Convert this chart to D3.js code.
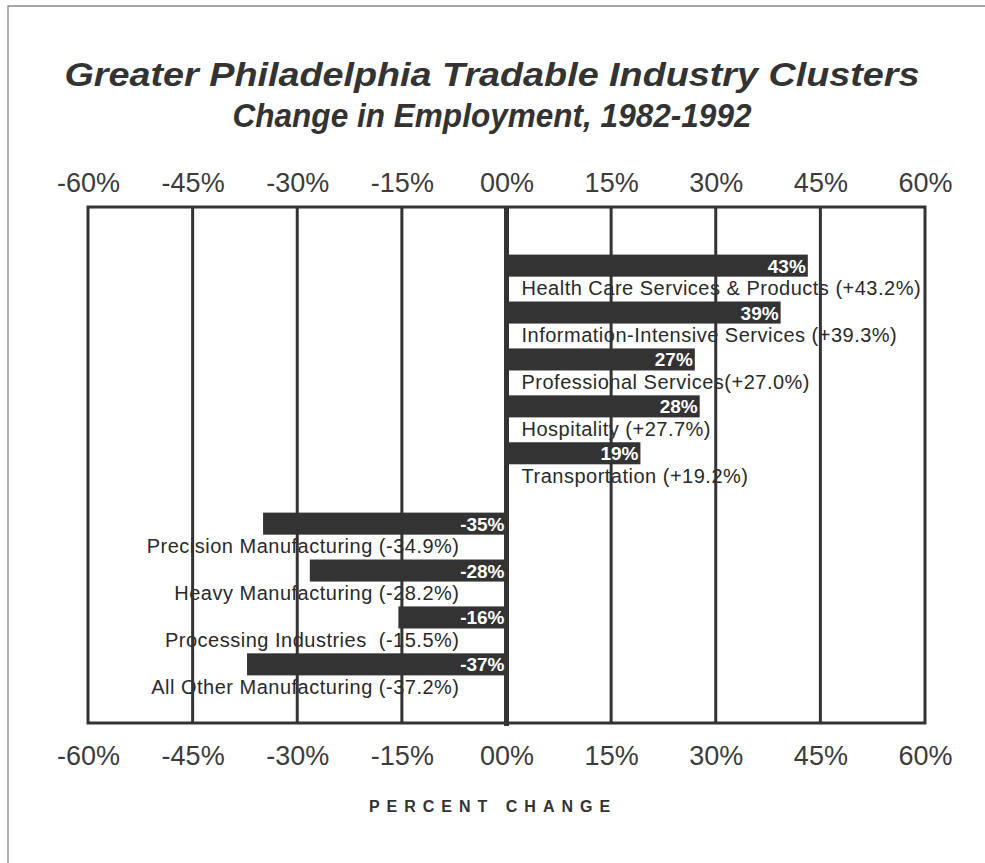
<!DOCTYPE html>
<html>
<head>
<meta charset="utf-8">
<script src="https://cdn.jsdelivr.net/npm/d3@7"></script>
<style>
  html, body { margin: 0; padding: 0; background: #fff; }
  svg { display: block; font-family: "Liberation Sans", Arial, sans-serif; }
</style>
</head>
<body>
<svg id="chart" width="985" height="863"></svg>
<script>
// ---- data ----
const categories = [
  "Health Care Services & Products",
  "Information-Intensive Services",
  "Professional Services",
  "Hospitality",
  "Transportation",
  "Precision Manufacturing",
  "Heavy Manufacturing",
  "Processing Industries",
  "All Other Manufacturing"
];
const values = [43.2, 39.3, 27.0, 27.7, 19.2, -34.9, -28.2, -15.5, -37.2];
const categoryLabels = [
  "Health Care Services & Products (+43.2%)",
  "Information-Intensive Services (+39.3%)",
  "Professional Services(+27.0%)",
  "Hospitality (+27.7%)",
  "Transportation (+19.2%)",
  "Precision Manufacturing (-34.9%)",
  "Heavy Manufacturing (-28.2%)",
  "Processing Industries  (-15.5%)",
  "All Other Manufacturing (-37.2%)"
];
const tickValues = [-60, -45, -30, -15, 0, 15, 30, 45, 60];
const tickLabels = ["-60%", "-45%", "-30%", "-15%", "00%", "15%", "30%", "45%", "60%"];
const titleText = "Greater Philadelphia Tradable Industry Clusters";
const subtitleText = "Change in Employment, 1982-1992";
const axisTitle = "PERCENT CHANGE";

// ---- layout ----
const svg = d3.select("#chart");
const plot = { left: 88, right: 925, top: 207, bottom: 723 };
const x = d3.scaleLinear().domain([-60, 60]).range([plot.left, plot.right]);
// 22 half-rows: each category = bar half-row + label half-row, one empty half-row between groups
const y = d3.scaleLinear().domain([0, 22]).range([plot.top, plot.bottom]);
const slotOf = i => 2 + 2 * i + (values[i] < 0 ? 1 : 0);
const halfH = y(1) - y(0);
const barH = halfH * 0.94;
const ink = "#333333";

// outer border (top and left edges only are visible)
svg.append("path").attr("d", "M8,870 L8,6 L985,6")
  .attr("fill", "none").attr("stroke", "#8a8a8a").attr("stroke-width", 1.3);

// titles
svg.append("text").attr("x", 492).attr("y", 86).attr("text-anchor", "middle")
  .attr("font-size", 34).attr("font-weight", "bold").attr("font-style", "italic")
  .attr("fill", ink).attr("textLength", 855).attr("lengthAdjust", "spacingAndGlyphs")
  .text(titleText);
svg.append("text").attr("x", 492).attr("y", 127).attr("text-anchor", "middle")
  .attr("font-size", 34).attr("font-weight", "bold").attr("font-style", "italic")
  .attr("fill", ink).attr("textLength", 519).attr("lengthAdjust", "spacingAndGlyphs")
  .text(subtitleText);

// category labels (drawn beneath gridlines, as in the reference)
const data = values.map((v, i) => ({ v, i, name: categories[i], label: categoryLabels[i] }));
svg.append("g").selectAll("text").data(data).join("text")
  .attr("x", d => d.v >= 0 ? x(0) + 15 : x(0) - 47)
  .attr("y", d => y(slotOf(d.i) + 1) + 18)
  .attr("text-anchor", d => d.v >= 0 ? "start" : "end")
  .attr("font-size", 20)
  .attr("letter-spacing", 0.5)
  .attr("fill", "#2a2a2a")
  .attr("xml:space", "preserve")
  .style("white-space", "pre")
  .text(d => d.label);

// gridlines
const grid = svg.append("g");
grid.selectAll("line").data(tickValues.filter(t => t !== 0 && Math.abs(t) !== 60)).join("line")
  .attr("x1", d => x(d)).attr("x2", d => x(d))
  .attr("y1", plot.top).attr("y2", plot.bottom)
  .attr("stroke", ink).attr("stroke-width", 3);
// frame
svg.append("rect").attr("x", plot.left).attr("y", plot.top)
  .attr("width", plot.right - plot.left).attr("height", plot.bottom - plot.top)
  .attr("fill", "none").attr("stroke", ink).attr("stroke-width", 3);

// bars
svg.append("g").selectAll("rect").data(data).join("rect")
  .attr("x", d => x(Math.min(0, d.v)))
  .attr("width", d => Math.abs(x(d.v) - x(0)))
  .attr("y", d => y(slotOf(d.i)) + (halfH - barH) / 2)
  .attr("height", barH)
  .attr("fill", ink);

// zero line
svg.append("line").attr("x1", x(0)).attr("x2", x(0))
  .attr("y1", plot.top).attr("y2", plot.bottom + 3)
  .attr("stroke", ink).attr("stroke-width", 5);

// value labels
const fmt = v => (v < 0 ? "-" : "") + Math.abs(v).toFixed(0) + "%";
svg.append("g").selectAll("text").data(data).join("text")
  .attr("x", d => (d.v >= 0 ? x(d.v) : x(0)) - 2)
  .attr("y", d => y(slotOf(d.i)) + halfH / 2 + 7)
  .attr("text-anchor", "end")
  .attr("font-size", 19).attr("font-weight", "bold")
  .attr("fill", "#ffffff")
  .text(d => fmt(d.v));

// axes (top and bottom) with tick labels only
const tickFmt = d => tickLabels[tickValues.indexOf(d)];
function styleAxis(g) {
  g.select(".domain").remove();
  g.selectAll(".tick line").remove();
  g.selectAll(".tick text")
    .attr("font-family", "'Liberation Sans', Arial, sans-serif")
    .attr("font-size", 27).attr("fill", "#3c3c3c");
}
svg.append("g").attr("transform", `translate(0,${plot.top - 15})`)
  .call(d3.axisTop(x).tickValues(tickValues).tickFormat(tickFmt).tickSize(0).tickPadding(0))
  .call(styleAxis);
svg.append("g").attr("transform", `translate(0,${plot.bottom + 23})`)
  .call(d3.axisBottom(x).tickValues(tickValues).tickFormat(tickFmt).tickSize(0).tickPadding(0))
  .call(styleAxis);

// axis title
svg.append("text").attr("x", 493).attr("y", 812).attr("text-anchor", "middle")
  .attr("font-size", 16).attr("font-weight", "bold").attr("fill", ink)
  .attr("letter-spacing", 7)
  .text(axisTitle);
</script>
</body>
</html>
